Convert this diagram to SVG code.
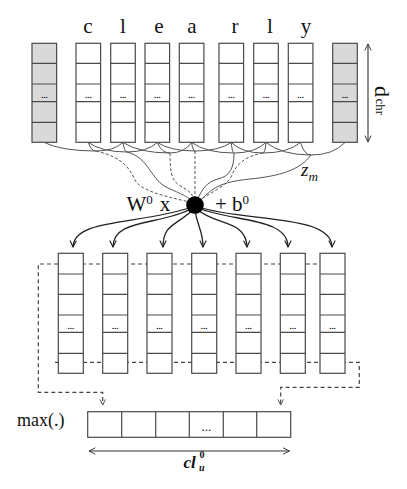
<svg xmlns="http://www.w3.org/2000/svg" width="407" height="489" viewBox="0 0 407 489">
<style>
.box{fill:#fff;stroke:#4a4a4a;stroke-width:1.2}
.pad{fill:#d9d9d9;stroke:#4a4a4a;stroke-width:1.2}
.row{fill:none;stroke:#4a4a4a;stroke-width:1.2}
.dots{font-family:"Liberation Sans",sans-serif;font-size:8px;font-weight:bold;fill:#000;text-anchor:middle}
.ser{font-family:"Liberation Serif",serif;fill:#111}
.let{font-family:"Liberation Serif",serif;font-size:21px;fill:#111;text-anchor:middle}
.arc{fill:none;stroke:#555;stroke-width:1}
.dash{fill:none;stroke:#555;stroke-width:1;stroke-dasharray:3,2}
.out{fill:none;stroke:#222;stroke-width:1.3;marker-end:url(#ah)}
.pool{fill:none;stroke:#444;stroke-width:1.2;stroke-dasharray:4,3;marker-end:url(#ahs)}
.dim{fill:none;stroke:#333;stroke-width:1.1;marker-start:url(#ahd);marker-end:url(#ahd)}
</style>
<defs>
<marker id="ah" viewBox="0 0 10 10" refX="9" refY="5" markerWidth="8" markerHeight="8" markerUnits="userSpaceOnUse" orient="auto"><path d="M1,1 L9,5 L1,9" fill="none" stroke="#222" stroke-width="1.4"/></marker>
<marker id="ahs" viewBox="0 0 10 10" refX="9" refY="5" markerWidth="7" markerHeight="7" markerUnits="userSpaceOnUse" orient="auto"><path d="M1,1 L9,5 L1,9" fill="none" stroke="#444" stroke-width="1.3"/></marker>
<marker id="ahd" viewBox="0 0 10 10" refX="9" refY="5" markerWidth="8" markerHeight="8" markerUnits="userSpaceOnUse" orient="auto-start-reverse"><path d="M1,1 L9,5 L1,9" fill="none" stroke="#333" stroke-width="1.2"/></marker>
</defs>
<rect width="407" height="489" fill="#fff"/>

<g id="letters">
<text class="let" x="88" y="33">c</text>
<text class="let" x="123" y="33">l</text>
<text class="let" x="159" y="33">e</text>
<text class="let" x="192" y="33">a</text>
<text class="let" x="235" y="33">r</text>
<text class="let" x="270" y="33">l</text>
<text class="let" x="306" y="33">y</text>
</g>

<g id="top-pad-left"><rect class="pad" x="32" y="43.3" width="24.6" height="99"/><path class="row" d="M32,63.3h24.6M32,84h24.6M32,101.7h24.6M32,122.3h24.6"/><text class="dots" x="44.3" y="98">...</text></g>
<g id="top-c"><rect class="box" x="76" y="43.3" width="24.6" height="99"/><path class="row" d="M76,63.3h24.6M76,84h24.6M76,101.7h24.6M76,122.3h24.6"/><text class="dots" x="88.3" y="98">...</text></g>
<g id="top-l1"><rect class="box" x="110.7" y="43.3" width="24.6" height="99"/><path class="row" d="M110.7,63.3h24.6M110.7,84h24.6M110.7,101.7h24.6M110.7,122.3h24.6"/><text class="dots" x="123" y="98">...</text></g>
<g id="top-e"><rect class="box" x="145" y="43.3" width="24.6" height="99"/><path class="row" d="M145,63.3h24.6M145,84h24.6M145,101.7h24.6M145,122.3h24.6"/><text class="dots" x="157.3" y="98">...</text></g>
<g id="top-a"><rect class="box" x="179.3" y="43.3" width="24.6" height="99"/><path class="row" d="M179.3,63.3h24.6M179.3,84h24.6M179.3,101.7h24.6M179.3,122.3h24.6"/><text class="dots" x="191.6" y="98">...</text></g>
<g id="top-r"><rect class="box" x="219" y="43.3" width="24.6" height="99"/><path class="row" d="M219,63.3h24.6M219,84h24.6M219,101.7h24.6M219,122.3h24.6"/><text class="dots" x="231.3" y="98">...</text></g>
<g id="top-l2"><rect class="box" x="253.7" y="43.3" width="24.6" height="99"/><path class="row" d="M253.7,63.3h24.6M253.7,84h24.6M253.7,101.7h24.6M253.7,122.3h24.6"/><text class="dots" x="266" y="98">...</text></g>
<g id="top-y"><rect class="box" x="288.3" y="43.3" width="24.6" height="99"/><path class="row" d="M288.3,63.3h24.6M288.3,84h24.6M288.3,101.7h24.6M288.3,122.3h24.6"/><text class="dots" x="300.6" y="98">...</text></g>
<g id="top-pad-right"><rect class="pad" x="332.7" y="43.3" width="24.6" height="99"/><path class="row" d="M332.7,63.3h24.6M332.7,84h24.6M332.7,101.7h24.6M332.7,122.3h24.6"/><text class="dots" x="345" y="98">...</text></g>

<g id="dchr">
<path class="dim" d="M368,44 V142"/>
<g transform="translate(375,86) rotate(90)">
<text class="ser" x="0" y="0" font-size="22">d</text>
<text class="ser" x="12.5" y="-1" font-size="13">chr</text>
</g>
</g>

<g id="connectors">
<g id="window-arcs">
<path class="arc" d="M44.3,142.5 Q62,151 96,151"/>
<path class="arc" d="M88.3,142.5 Q91,151 96,151"/>
<path class="arc" d="M88.3,142.5 Q102,152 127,152"/>
<path class="arc" d="M123,142.5 Q113.5,151 96,151"/>
<path class="arc" d="M123,142.5 Q124.4,152 127,152"/>
<path class="arc" d="M123,142.5 Q139.5,153 170,153"/>
<path class="arc" d="M157.3,142.5 Q146.7,152 127,152"/>
<path class="arc" d="M157.3,142.5 Q161.7,153 170,153"/>
<path class="arc" d="M157.3,142.5 Q170.5,151 195,151"/>
<path class="arc" d="M191.6,142.5 Q184,153 170,153"/>
<path class="arc" d="M191.6,142.5 Q192.8,151 195,151"/>
<path class="arc" d="M191.6,142.5 Q206.4,153 234,153"/>
<path class="arc" d="M231.3,142.5 Q218.6,151 195,151"/>
<path class="arc" d="M231.3,142.5 Q232.2,153 234,153"/>
<path class="arc" d="M231.3,142.5 Q242.4,153 263,153"/>
<path class="arc" d="M266,142.5 Q254.8,153 234,153"/>
<path class="arc" d="M266,142.5 Q265,153 263,153"/>
<path class="arc" d="M266,142.5 Q281.8,155 311,155"/>
<path class="arc" d="M300.6,142.5 Q287.4,153 263,153"/>
<path class="arc" d="M300.6,142.5 Q304.2,155 311,155"/>
<path class="arc" d="M345,142.5 Q333.1,155 311,155"/>
</g>
<g id="to-node">
<path class="dash" d="M96,151 C125,158 130,170 135,180 S162,196 190,202"/>
<path class="arc" d="M127,152 C150,158 150,180 168,188 S186,196 192,201"/>
<path class="dash" d="M170,153 C170,170 171,180 179,185 S192,192 194,200"/>
<path class="dash" d="M195,151 V200"/>
<path class="arc" d="M234,153 C234,168 230,176 218,179 S202,190 197,200"/>
<path class="dash" d="M263,153 C245,156 236,165 232,175 S212,192 198,201"/>
<path class="arc" d="M311,155 C300,170 280,176 250,179 S212,188 199,202"/>
</g>
<g id="to-maps">
<path class="out" d="M192,207 C140,225 74,218 73,247"/>
<path class="out" d="M193,208 C160,226 113,218 113,247"/>
<path class="out" d="M194,209 C176,226 163,224 163,247"/>
<path class="out" d="M195,210 C197,226 203,230 203,247"/>
<path class="out" d="M197,209 C215,226 246,219 247,247"/>
<path class="out" d="M198,208 C232,222 288,217 288,247"/>
<path class="out" d="M198,207 C245,222 332,214 332,247"/>
</g>
<g id="pooling">
<path class="pool" d="M345,264 H38.3 V392.3 H102.7 V405"/>
<path class="pool" d="M55,362.3 H359.3 V387.3 H280.7 V405"/>
</g>
</g>

<g id="node-affine">
<circle cx="195" cy="205" r="8.8" fill="#000"/>
<text class="ser" x="126.5" y="211" font-size="21">W<tspan font-size="13" dy="-7">0</tspan><tspan dy="7" dx="7">x</tspan></text>
<text class="ser" x="215" y="211" font-size="21">+ b<tspan font-size="13" dy="-7">0</tspan></text>
</g>
<g id="zm-label">
<text class="ser" x="301" y="176" font-size="19" font-style="italic">z<tspan font-size="13" dy="5">m</tspan></text>
</g>

<g id="map-1"><rect class="box" x="58.3" y="253.3" width="25" height="120"/><path class="row" d="M58.3,274h25M58.3,294.3h25M58.3,315h25M58.3,332.3h25M58.3,353.3h25"/><text class="dots" x="70.8" y="329">...</text></g>
<g id="map-2"><rect class="box" x="102.7" y="253.3" width="25" height="120"/><path class="row" d="M102.7,274h25M102.7,294.3h25M102.7,315h25M102.7,332.3h25M102.7,353.3h25"/><text class="dots" x="115.2" y="329">...</text></g>
<g id="map-3"><rect class="box" x="147" y="253.3" width="25" height="120"/><path class="row" d="M147,274h25M147,294.3h25M147,315h25M147,332.3h25M147,353.3h25"/><text class="dots" x="159.5" y="329">...</text></g>
<g id="map-4"><rect class="box" x="191.7" y="253.3" width="25" height="120"/><path class="row" d="M191.7,274h25M191.7,294.3h25M191.7,315h25M191.7,332.3h25M191.7,353.3h25"/><text class="dots" x="204.2" y="329">...</text></g>
<g id="map-5"><rect class="box" x="236" y="253.3" width="25" height="120"/><path class="row" d="M236,274h25M236,294.3h25M236,315h25M236,332.3h25M236,353.3h25"/><text class="dots" x="248.5" y="329">...</text></g>
<g id="map-6"><rect class="box" x="280.3" y="253.3" width="25" height="120"/><path class="row" d="M280.3,274h25M280.3,294.3h25M280.3,315h25M280.3,332.3h25M280.3,353.3h25"/><text class="dots" x="292.8" y="329">...</text></g>
<g id="map-7"><rect class="box" x="320" y="253.3" width="25" height="120"/><path class="row" d="M320,274h25M320,294.3h25M320,315h25M320,332.3h25M320,353.3h25"/><text class="dots" x="332.5" y="329">...</text></g>

<g id="pooled">
<rect class="box" x="87.7" y="411.7" width="203" height="25.6"/>
<path class="row" d="M121.7,411.7v25.6M155.7,411.7v25.6M189.3,411.7v25.6M223.3,411.7v25.6M256.7,411.7v25.6"/>
<text class="ser" x="206.3" y="431" font-size="13" text-anchor="middle">...</text>
</g>
<text class="ser" x="17" y="426" font-size="18">max(.)</text>

<g id="cl-dim">
<path class="dim" d="M89,451 H289.5"/>
<text class="ser" x="183.5" y="467.5" font-size="17" font-style="italic" font-weight="bold">cl</text>
<text class="ser" x="199.5" y="458" font-size="10" font-weight="bold">0</text>
<text class="ser" x="199" y="471" font-size="10" font-style="italic" font-weight="bold">u</text>
</g>
</svg>
